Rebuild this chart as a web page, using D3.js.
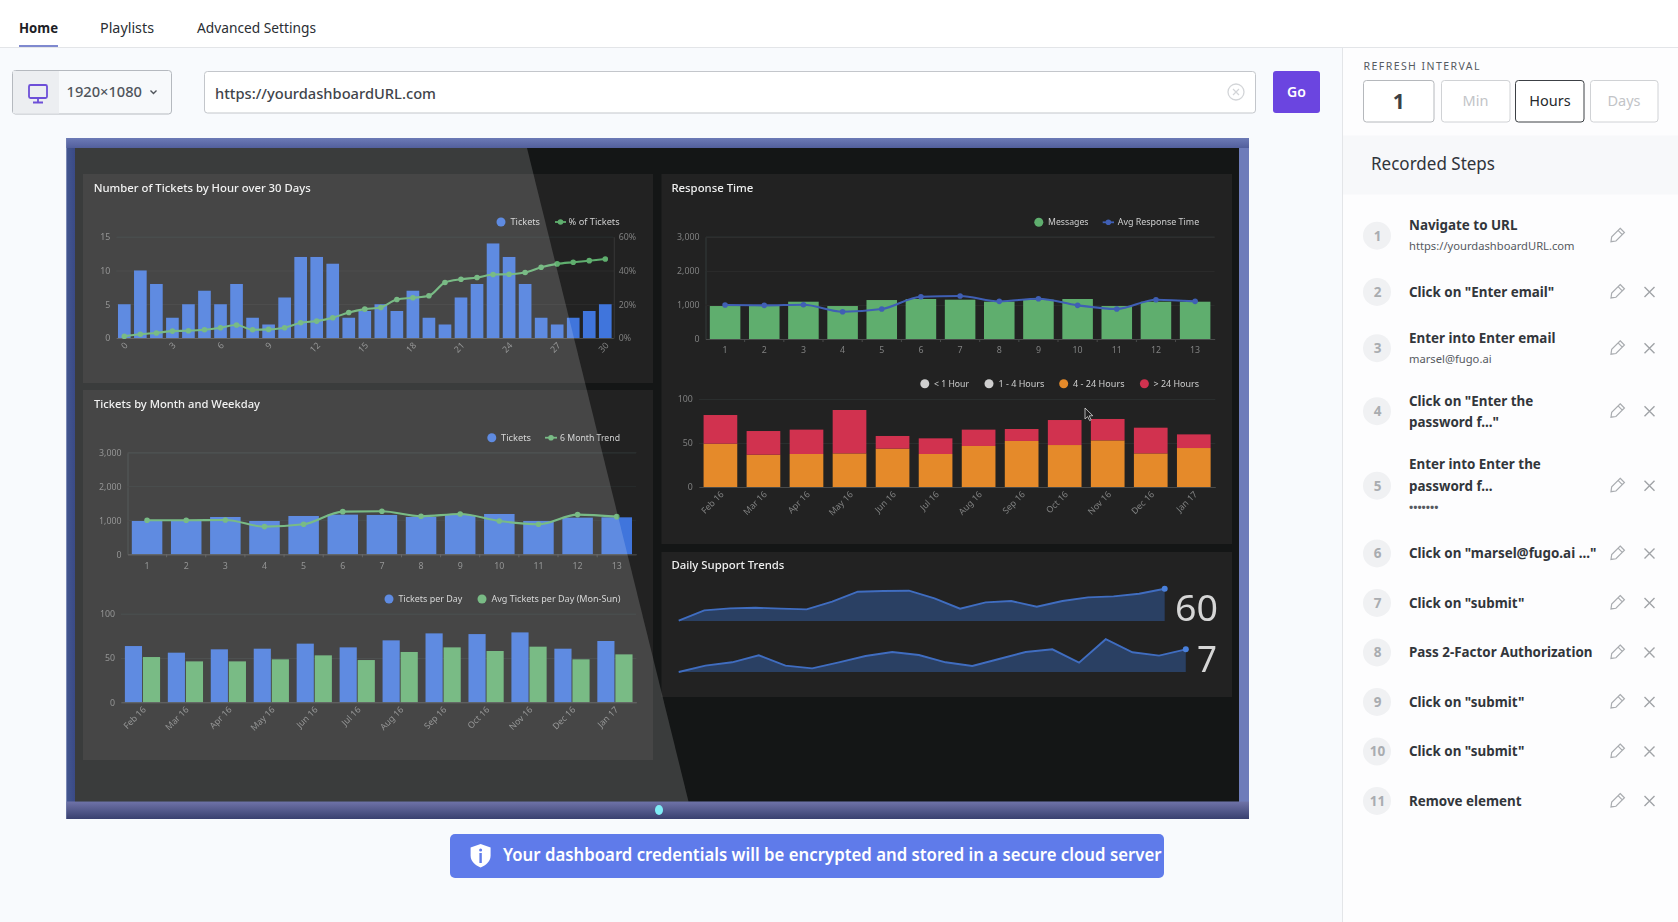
<!DOCTYPE html>
<html>
<head>
<meta charset="utf-8">
<script src="https://cdn.jsdelivr.net/npm/d3@7"></script>
<style>
  html, body { margin: 0; padding: 0; background: #f8fafd; overflow: hidden; }
  svg { display: block; }
</style>
</head>
<body>
<div id="page"></div>
<script>
// chart 1
var hourLabels = d3.range(0, 31);
var hourTickLabels = [0, 3, 6, 9, 12, 15, 18, 21, 24, 27, 30];
var hourTickets = [5, 10, 8, 3, 5, 7, 5, 8, 3, 2, 6, 12, 12, 11, 3, 4, 5, 4, 7, 3, 2, 6, 8, 14, 12, 8, 3, 2, 3, 4, 5];
var hourPercent = [1, 2.2, 3, 4.1, 4.3, 4.9, 6.1, 7.7, 4.9, 5.1, 6.1, 9, 10, 12, 15.1, 17.1, 18.1, 22.8, 23.8, 25, 32.9, 34.8, 35.8, 37.6, 37.8, 38.8, 41.9, 43.9, 44.9, 45.8, 46.8];

// charts 2 and 4
var weekLabels = [1, 2, 3, 4, 5, 6, 7, 8, 9, 10, 11, 12, 13];
var weekTickets = [980, 980, 1098, 980, 1127, 1167, 1157, 1098, 1157, 1186, 980, 1078, 1088];
var weekTrend = [1000, 1000, 1010, 814, 882, 1255, 1265, 1118, 1186, 980, 882, 1167, 1108];
var weekMessages = [967, 967, 1094, 967, 1143, 1173, 1153, 1094, 1153, 1173, 967, 1094, 1094];
var weekResponse = [997, 987, 1006, 801, 879, 1241, 1261, 1104, 1182, 987, 879, 1153, 1104];

// charts 3 and 5
var monthLabels = ["Feb 16", "Mar 16", "Apr 16", "May 16", "Jun 16", "Jul 16", "Aug 16", "Sep 16", "Oct 16", "Nov 16", "Dec 16", "Jan 17"];
var ticketsPerDay = [63.5, 56, 59.8, 60.5, 66.2, 62, 69.9, 77.8, 77, 78.9, 60.5, 69.2];
var avgPerDay = [51.1, 46.2, 46.2, 48.5, 53, 47.7, 56.8, 62, 57.9, 62.8, 48.5, 54.1];
var hours4to24 = [49.2, 36.7, 37.5, 38.2, 43.6, 37.5, 46.6, 52.3, 47.7, 53, 38.2, 44.3];
var hoursOver24 = [32.6, 26.9, 27.7, 49.3, 14.4, 17.8, 18.6, 13.6, 28.4, 24.3, 29.2, 15.5];

// sparklines
var trendTop = [0.6, 19.8, 23.5, 24.7, 22.9, 21.6, 35.9, 54.4, 55.7, 56.3, 42.1, 22.9, 34.6, 37.1, 26.6, 37.1, 43.9, 45.8, 50.7, 60];
var trendBottom = [0, 1.96, 2.99, 5.15, 1.96, 1.13, 2.99, 4.94, 6.18, 5.25, 2.99, 1.85, 4.02, 6.18, 7, 2.88, 10.1, 6.08, 5.05, 7];

// recorded steps list
var stepTitles = [
  ["Navigate to URL"], ['Click on "Enter email"'], ["Enter into Enter email"], ['Click on "Enter the', 'password f..."'],
  ["Enter into Enter the", "password f..."], ['Click on "marsel@fugo.ai ..."'], ['Click on "submit"'],
  ["Pass 2-Factor Authorization"], ['Click on "submit"'], ['Click on "submit"'], ["Remove element"]
];
var stepSubs = ["https://yourdashboardURL.com", null, "marsel@fugo.ai", null, "•••••••", null, null, null, null, null, null];

var BLUE = "#3f74dc", GREEN = "#5fae6e", ORANGE = "#e58a2b", RED = "#d1314f";
var CHART_FONT = "'Noto Sans', sans-serif", UI_FONT = "'Noto Sans', sans-serif";

var svg = d3.select("#page").append("svg").attr("width", 1678).attr("height", 922);
var defs = svg.append("defs");
defs.append("filter").attr("id", "soft").attr("x", 0).attr("y", 0).attr("width", 1).attr("height", 1)
  .append("feGaussianBlur").attr("stdDeviation", 0.35);

function label(g, str, x, y, size, color, weight, width, anchor, font) {
  var t = g.append("text")
    .attr("x", x).attr("y", y)
    .attr("font-size", size).attr("fill", color)
    .attr("font-weight", weight || 400)
    .attr("font-family", font || UI_FONT)
    .attr("text-anchor", anchor || "start")
    .text(str);
  if (width) t.attr("textLength", width).attr("lengthAdjust", "spacingAndGlyphs");
  return t;
}

function box(g, x0, y0, x1, y1, fill, stroke, r) {
  return g.append("rect").attr("x", x0).attr("y", y0).attr("width", x1 - x0).attr("height", y1 - y0)
    .attr("fill", fill).attr("stroke", stroke || "none").attr("rx", r || 0);
}

function gradient(id, x2, y2, stops) {
  var g = defs.append("linearGradient").attr("id", id).attr("x1", 0).attr("y1", 0).attr("x2", x2).attr("y2", y2);
  stops.forEach(function(s) { g.append("stop").attr("offset", s[0]).attr("stop-color", s[1]); });
}

function band(domain, range, pad) {
  return d3.scaleBand().domain(domain).range(range).paddingInner(pad).paddingOuter(pad / 2);
}

/* ---------- page chrome ---------- */
var ui = svg.append("g");
box(ui, 0, 0, 1678, 47, "#ffffff");
box(ui, 0, 47, 1342, 922, "#f8fafd");
box(ui, 1342, 47, 1678, 922, "#fdfdfe");
ui.append("line").attr("x1", 0).attr("x2", 1678).attr("y1", 47.5).attr("y2", 47.5).attr("stroke", "#e3e5e8");
ui.append("line").attr("x1", 1342.5).attr("x2", 1342.5).attr("y1", 47).attr("y2", 922).attr("stroke", "#e3e5e8");

label(ui, "Home", 19, 32.5, 14.5, "#1d2126", 700, 39);
box(ui, 19, 45, 58, 47, "#7f89cf");
label(ui, "Playlists", 100, 32.5, 14.5, "#2a2e33", 400, 54);
label(ui, "Advanced Settings", 197, 32.5, 14.5, "#2a2e33", 400, 119);

// resolution picker
box(ui, 12.5, 70.5, 171.5, 114, "#f7f9fb", "#b5b9bf", 3);
box(ui, 13, 71, 59, 113.5, "#eceef1");
ui.append("rect").attr("x", 29).attr("y", 85).attr("width", 18).attr("height", 13).attr("rx", 1.5).attr("fill", "none").attr("stroke", "#6d4fd8").attr("stroke-width", 1.8);
ui.append("path").attr("d", "M38 98v4M33 102.5h10").attr("stroke", "#6d4fd8").attr("stroke-width", 1.8);
label(ui, "1920×1080", 66.5, 97, 14.5, "#50555b", 500, 75.5);
ui.append("path").attr("d", "M150.5 90.5l3 3l3 -3").attr("fill", "none").attr("stroke", "#50555b").attr("stroke-width", 1.4);

// url input
box(ui, 204.5, 71.5, 1255.5, 113, "#ffffff", "#c3c6cb", 3);
label(ui, "https://yourdashboardURL.com", 215, 99, 15, "#3f444a", 500, 221);
ui.append("circle").attr("cx", 1236).attr("cy", 92).attr("r", 8).attr("fill", "none").attr("stroke", "#d3d5d8").attr("stroke-width", 1.3);
ui.append("path").attr("d", "M1233 89l6 6M1239 89l-6 6").attr("stroke", "#d3d5d8").attr("stroke-width", 1.2);
box(ui, 1273, 71, 1320, 113, "#6b45e0", null, 3);
label(ui, "Go", 1296.5, 97, 14, "#ffffff", 600, null, "middle");

// refresh interval
label(ui, "REFRESH INTERVAL", 1363.5, 70, 10.5, "#565b61", 400, 116).attr("lengthAdjust", "spacing");
box(ui, 1363.5, 80.5, 1434, 122, "#ffffff", "#b5b8bc", 3);
label(ui, "1", 1398.7, 109, 21, "#3c4045", 700, null, "middle");
box(ui, 1441.5, 80.5, 1510, 122, "#ffffff", "#d0d2d5", 3);
label(ui, "Min", 1475.5, 106, 14.5, "#c2c4c7", 400, null, "middle");
box(ui, 1515.5, 80.5, 1584, 122, "#ffffff", "#3c4045", 3);
label(ui, "Hours", 1550, 106, 14.5, "#26292d", 400, null, "middle");
box(ui, 1590.5, 80.5, 1658, 122, "#ffffff", "#d0d2d5", 3);
label(ui, "Days", 1624, 106, 14.5, "#c2c4c7", 400, null, "middle");

// recorded steps
box(ui, 1343, 135.5, 1678, 194.5, "#f7f8fa");
label(ui, "Recorded Steps", 1371, 170, 17.5, "#30343a", 400, 124);

function pencil(g, x, y) {
  g.append("path")
    .attr("transform", "translate(" + x + "," + y + ") rotate(45)")
    .attr("d", "M-3 -7.5h6v12l-3 4l-3 -4zM-3 -4.5h6")
    .attr("fill", "none").attr("stroke", "#a9acb0").attr("stroke-width", 1.2);
}
function cross(g, x, y) {
  g.append("path").attr("d", "M" + (x - 5) + " " + (y - 5) + "l10 10M" + (x + 5) + " " + (y - 5) + "l-10 10")
    .attr("stroke", "#a0a3a7").attr("stroke-width", 1.4);
}

var stepTop = 204.2;
var rowHeights = { 1: 49.5, 2: 63, 3: 86 };
stepTitles.forEach(function(lines, i) {
  var sub = stepSubs[i];
  var n = lines.length + (sub ? 1 : 0);
  var cy = stepTop + rowHeights[n] / 2;
  stepTop += rowHeights[n];
  ui.append("circle").attr("cx", 1377).attr("cy", cy).attr("r", 14).attr("fill", "#f0f1f3");
  label(ui, i + 1, 1377.5, cy + 5, 13.5, "#a9acb0", 700, null, "middle");
  var ly = cy - (n - 1) * 10.7 + 5;
  lines.forEach(function(s) {
    label(ui, s, 1409, ly, 13.4, "#32363b", 700);
    ly += 21.4;
  });
  if (sub) label(ui, sub, 1409, ly - 1, 11.2, "#55595f", sub.charAt(0) == "•" ? 700 : 400);
  pencil(ui, 1617, cy);
  if (i > 0) cross(ui, 1649.5, cy);
});

// banner
box(ui, 450, 834, 1164, 878, "#5f7bea", null, 5);
ui.append("path")
  .attr("d", "M480.6 844l10 3.5v8c0 6 -4.5 9.5 -10 12c-5.5 -2.5 -10 -6 -10 -12v-8z").attr("fill", "#ffffff");
box(ui, 479.4, 853, 481.8, 863, "#5f7bea");
ui.append("circle").attr("cx", 480.6).attr("cy", 850).attr("r", 1.5).attr("fill", "#5f7bea");
label(ui, "Your dashboard credentials will be encrypted and stored in a secure cloud server", 503, 861, 17, "#ffffff", 600, 658.5);

/* ---------- dashboard frame ---------- */
gradient("frameLeft", 1, 0, [[0, "#43568f"], [1, "#3a4a86"]]);
gradient("frameBottom", 0, 1, [[0, "#6f73a8"], [1, "#39406f"]]);
gradient("frameTop", 0, 1, [[0, "#6c7ab6"], [1, "#525f9c"]]);
box(ui, 66.5, 138, 1249, 819, "#6e7cba");
box(ui, 66.5, 138, 75, 819, "url(#frameLeft)");
box(ui, 66.5, 138, 1249, 148, "url(#frameTop)");
box(ui, 66.5, 801.5, 1249, 819, "url(#frameBottom)");
box(ui, 75, 148, 1239, 801.5, "#141616");

var dash = svg.append("g").attr("filter", "url(#soft)");
box(dash, 83, 174, 653, 383, "#212222");
box(dash, 83, 390, 653, 760, "#212222");
box(dash, 661.5, 174, 1232, 544, "#212222");
box(dash, 661.5, 552, 1232, 697, "#212222");

label(dash, "Number of Tickets by Hour over 30 Days", 93.7, 192, 11.5, "#f0f0f0", 500, 217, null, CHART_FONT);
label(dash, "Tickets by Month and Weekday", 94, 407.7, 11.5, "#f0f0f0", 500, 166, null, CHART_FONT);
label(dash, "Response Time", 671.4, 192, 11.5, "#f0f0f0", 500, 82, null, CHART_FONT);
label(dash, "Daily Support Trends", 671.4, 569, 11.5, "#f0f0f0", 500, 113, null, CHART_FONT);

function legendDot(x, y, color, str, tx, tw) {
  dash.append("circle").attr("cx", x).attr("cy", y).attr("r", 4.5).attr("fill", color);
  label(dash, str, tx, y + 3, 9, "#cfcfcf", 400, tw, null, CHART_FONT);
}
function legendLine(x0, x1, y, color, str, tx, tw) {
  dash.append("line").attr("x1", x0).attr("x2", x1).attr("y1", y).attr("y2", y).attr("stroke", color).attr("stroke-width", 1.8);
  dash.append("circle").attr("cx", (x0 + x1) / 2).attr("cy", y).attr("r", 2.8).attr("fill", color);
  label(dash, str, tx, y + 3, 9, "#cfcfcf", 400, tw, null, CHART_FONT);
}

function styleAxis(g) {
  g.attr("class", "axis").attr("font-family", CHART_FONT).attr("font-size", 8.8);
  g.selectAll("text").attr("fill", "#808080");
}

// grid lines plus the left value labels
function valueAxis(y, ticks, x0, x1, axisLine) {
  var fmt = d3.format(",");
  var grid = dash.append("g").attr("transform", "translate(" + x0 + ",0)")
    .call(d3.axisLeft(y).tickValues(ticks).tickSize(-(x1 - x0)).tickPadding(6).tickFormat(fmt));
  styleAxis(grid);
  grid.select(".domain").attr("display", axisLine ? null : "none").attr("stroke", "#383939");
  grid.selectAll(".tick line").attr("stroke", "#2c2d2d");
  return grid;
}

function bandAxis(x, y0, opts) {
  var axis = d3.axisBottom(x).tickSize(0).tickPadding(opts.rotate ? 0 : 8).tickSizeOuter(0);
  if (opts.values) axis.tickValues(opts.values);
  var g = dash.append("g").attr("transform", "translate(0," + y0 + ")").call(axis);
  styleAxis(g);
  g.select(".domain").attr("stroke", "#4a4b4b");
  if (opts.rotate) {
    g.selectAll("text").attr("text-anchor", "end").attr("dy", 0).attr("y", 0)
      .attr("transform", "translate(4,8) rotate(-45)");
  }
  if (opts.edgeTicks) {
    dash.append("g").selectAll("line").data(x.domain().slice(1)).join("line")
      .attr("x1", function(d) { return x(d) - x.step() * x.paddingInner() / 2; })
      .attr("x2", function(d) { return x(d) - x.step() * x.paddingInner() / 2; })
      .attr("y1", y0).attr("y2", y0 + 3).attr("stroke", "#4a4b4b");
  }
}

function bars(xs, x, vals, y, color) {
  dash.append("g").selectAll("rect").data(vals).join("rect")
    .attr("x", function(d, i) { return x(xs[i]); })
    .attr("width", x.bandwidth())
    .attr("y", function(d) { return y(d); })
    .attr("height", function(d) { return y(0) - y(d); })
    .attr("fill", color);
}

function trendLine(xs, x, vals, y, color) {
  var cx = function(i) { return x(xs[i]) + x.bandwidth() / 2; };
  var line = d3.line().x(function(d, i) { return cx(i); }).y(function(d) { return y(d); }).curve(d3.curveMonotoneX);
  dash.append("path").attr("d", line(vals)).attr("fill", "none").attr("stroke", color).attr("stroke-width", 2.1);
  dash.append("g").selectAll("circle").data(vals).join("circle")
    .attr("cx", function(d, i) { return cx(i); }).attr("cy", function(d) { return y(d); })
    .attr("r", 2.8).attr("fill", color);
}

/* chart 1: tickets by hour */
function drawHours() {
  var x = band(hourLabels, [116.3, 613.3], 0.21);
  var y = d3.scaleLinear().domain([0, 15]).range([338, 236.7]);
  var yPct = d3.scaleLinear().domain([0, 60]).range([338, 236.7]);
  valueAxis(y, [0, 5, 10, 15], 116.3, 613.7);
  var right = dash.append("g").attr("transform", "translate(613.7,0)")
    .call(d3.axisRight(yPct).tickValues([0, 20, 40, 60]).tickSize(0).tickPadding(5).tickFormat(function(d) { return d + "%"; }));
  styleAxis(right);
  right.select(".domain").attr("stroke", "#383939");
  bars(hourLabels, x, hourTickets, y, BLUE);
  bandAxis(x, 338, { values: hourTickLabels, rotate: true });
  trendLine(hourLabels, x, hourPercent, yPct, GREEN);
  legendDot(501, 222, BLUE, "Tickets", 510.5, 29.5);
  legendLine(555, 566, 222, GREEN, "% of Tickets", 568.6, 51);
}

/* charts 2 and 4: thirteen bars with a trend line */
function drawWeeks(x0, x1, y0, y1, vals, trend, barColor, lineColor) {
  var x = band(weekLabels, [x0, x1], 0.22);
  var y = d3.scaleLinear().domain([0, 3000]).range([y0, y1]);
  valueAxis(y, [0, 1000, 2000, 3000], x0, x1, true);
  bars(weekLabels, x, vals, y, barColor);
  bandAxis(x, y0, { edgeTicks: true });
  trendLine(weekLabels, x, trend, y, lineColor);
}

/* chart 3: grouped bars per month */
function drawDaily() {
  var x = band(monthLabels, [121, 636.4], 0.18);
  var inner = d3.scaleBand().domain(["tickets", "avg"]).range([0, x.bandwidth()]).paddingInner(0.05);
  var y = d3.scaleLinear().domain([0, 100]).range([702.3, 613.7]);
  valueAxis(y, [0, 50, 100], 121, 636.4);
  dash.append("g").selectAll("rect").data(ticketsPerDay).join("rect")
    .attr("x", function(d, i) { return x(monthLabels[i]) + inner("tickets"); })
    .attr("width", inner.bandwidth()).attr("y", function(d) { return y(d); })
    .attr("height", function(d) { return y(0) - y(d); }).attr("fill", BLUE);
  dash.append("g").selectAll("rect").data(avgPerDay).join("rect")
    .attr("x", function(d, i) { return x(monthLabels[i]) + inner("avg"); })
    .attr("width", inner.bandwidth()).attr("y", function(d) { return y(d); })
    .attr("height", function(d) { return y(0) - y(d); }).attr("fill", GREEN);
  bandAxis(x, 702.3, { rotate: true });
  legendDot(389, 599, BLUE, "Tickets per Day", 398.4, 64);
  legendDot(482, 599, GREEN, "Avg Tickets per Day (Mon-Sun)", 491.4, 129);
}

/* chart 5: stacked response buckets */
function drawStacked() {
  var x = band(monthLabels, [698.9, 1215.3], 0.217);
  var y = d3.scaleLinear().domain([0, 100]).range([487, 399]);
  valueAxis(y, [0, 50, 100], 698.9, 1215.3);
  var rows = monthLabels.map(function(m, i) { return { month: m, orange: hours4to24[i], red: hoursOver24[i] }; });
  var stack = d3.stack().keys(["orange", "red"])(rows);
  var colors = { orange: ORANGE, red: RED };
  dash.append("g").selectAll("g").data(stack).join("g").attr("fill", function(s) { return colors[s.key]; })
    .selectAll("rect").data(function(s) { return s; }).join("rect")
    .attr("x", function(d) { return x(d.data.month); }).attr("width", x.bandwidth())
    .attr("y", function(d) { return y(d[1]); }).attr("height", function(d) { return y(d[0]) - y(d[1]); });
  bandAxis(x, 487, { rotate: true });
  legendDot(924.8, 383.7, "#cfcfcf", "< 1 Hour", 934, 35);
  legendDot(989, 383.7, "#cfcfcf", "1 - 4 Hours", 998.4, 46);
  legendDot(1063.7, 383.7, ORANGE, "4 - 24 Hours", 1073, 51.5);
  legendDot(1144.4, 383.7, RED, "> 24 Hours", 1153.5, 45.5);
}

/* chart 6: sparklines */
function drawSpark(vals, x0, x1, y0, pxTop, maxVal, total, totalX, totalW) {
  var x = d3.scaleLinear().domain([0, vals.length - 1]).range([x0, x1]);
  var y = d3.scaleLinear().domain([0, maxVal]).range([y0, pxTop]);
  var area = d3.area().x(function(d, i) { return x(i); }).y0(y0).y1(function(d) { return y(d); });
  var line = d3.line().x(function(d, i) { return x(i); }).y(function(d) { return y(d); });
  dash.append("path").attr("d", area(vals)).attr("fill", "#2b3f63");
  dash.append("path").attr("d", line(vals)).attr("fill", "none").attr("stroke", "#3f6dc0").attr("stroke-width", 1.9);
  dash.append("circle").attr("cx", x(vals.length - 1)).attr("cy", y(vals[vals.length - 1])).attr("r", 3).attr("fill", "#4a80dc");
  label(dash, total, totalX, y0 - 0.5, 36, "#d6d6d6", 400, totalW, null, CHART_FONT);
}

drawHours();
drawWeeks(127.5, 636.3, 554.3, 452.3, weekTickets, weekTrend, BLUE, GREEN);
legendDot(491.8, 437.7, BLUE, "Tickets", 501, 30);
legendLine(545, 557, 437.7, GREEN, "6 Month Trend", 560, 60);
drawDaily();
drawWeeks(705.5, 1214.7, 339, 236.7, weekMessages, weekResponse, GREEN, "#3f5fb4");
legendDot(1038.8, 222.3, GREEN, "Messages", 1048, 40.5);
legendLine(1102.7, 1114, 222.3, "#3f5fb4", "Avg Response Time", 1117.7, 81.5);
drawStacked();
drawSpark(trendTop, 678.7, 1164.7, 621, 588.7, 60, "60", 1175, 43);
drawSpark(trendBottom, 678.7, 1185.8, 672, 649.3, 7, "7", 1197, 20);

/* transition wipe over the left of the dashboard */
svg.append("polygon")
  .attr("points", "75,148 527,148 688.5,801.5 75,801.5")
  .attr("fill", "#ffffff").attr("fill-opacity", 0.165);

// carousel dot and mouse pointer
svg.append("ellipse").attr("cx", 659).attr("cy", 810).attr("rx", 4).attr("ry", 5).attr("fill", "#7fecf5");
svg.append("path").attr("d", "M1085 408l0 11l2.6 -2.4l2 4l1.6 -0.8l-2 -3.9l3.6 -0.2z")
  .attr("fill", "#222").attr("stroke", "#d8d8d8").attr("stroke-width", 0.8);
</script>
</body>
</html>
